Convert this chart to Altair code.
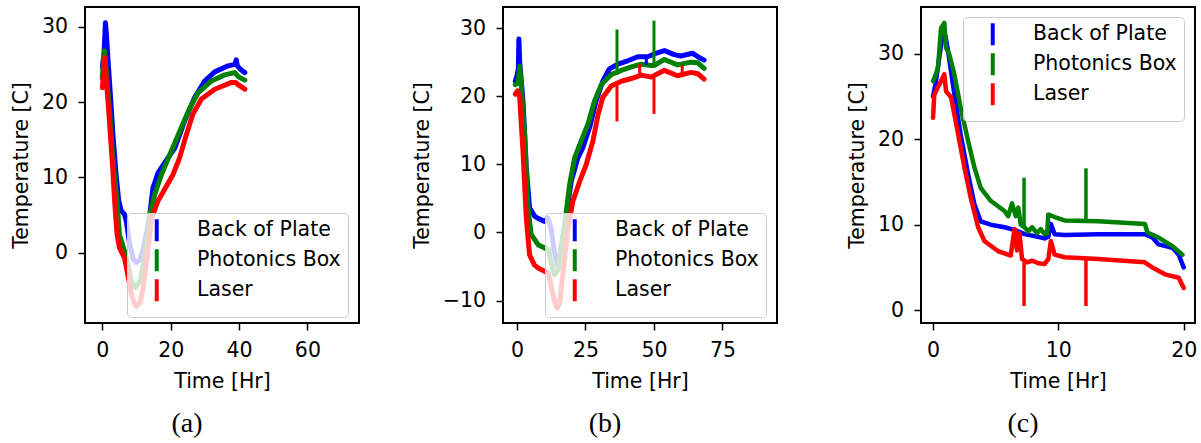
import altair as alt
import pandas as pd

SERIES = ["Back of Plate", "Photonics Box", "Laser"]
COLORS = ["#0000ff", "#008000", "#ff0000"]
FONT = "DejaVu Sans"
FS = 20.5

# ---------------- Panel (a) ----------------
a_blue_t = [0, 0.5, 0.9, 1.2, 1.6, 2.5, 3.1, 4.0, 4.8, 5.5, 6.5, 7.0, 8.0, 9.0, 10.0, 11.0, 12.0, 13.0, 13.9, 14.8, 16.3, 19.2, 21.2, 24.1, 27.0, 30.0, 32.9, 36.8, 38.8, 39.2, 39.5, 40.5, 41.7]
a_blue_T = [24.6, 26.5, 30.5, 29.0, 26.0, 20.0, 15.7, 10.5, 6.9, 5.6, 5.1, 4.2, 1.2, -0.8, -1.3, -0.9, 0.5, 2.8, 5.1, 8.6, 10.6, 12.6, 13.9, 17.5, 20.6, 22.8, 24.0, 24.8, 25.0, 25.6, 24.8, 24.3, 23.9]
a_green_t = [0, 0.3, 0.6, 1.0, 2.0, 3.0, 4.3, 5.0, 6.5, 7.5, 8.5, 9.7, 11.0, 12.0, 13.0, 13.9, 15.3, 17.3, 20.2, 23.1, 25.6, 28.0, 31.9, 35.8, 38.7, 40.0, 41.7]
a_green_T = [23.2, 25.5, 26.8, 25.0, 19.5, 13.0, 6.9, 2.4, 0.2, -1.5, -3.8, -4.6, -3.8, -1.5, 1.5, 5.1, 7.7, 10.4, 13.5, 16.6, 19.2, 21.2, 22.8, 23.6, 23.9, 23.3, 22.9]
a_red_t = [0, 0.3, 0.7, 1.0, 2.0, 3.0, 3.6, 4.3, 5.0, 6.5, 7.5, 8.5, 9.5, 10.0, 11.0, 12.0, 13.0, 14.4, 16.3, 18.2, 20.7, 22.6, 24.6, 26.5, 29.0, 32.9, 37.8, 39.0, 39.7, 41.7]
a_red_T = [21.9, 23.5, 25.9, 24.0, 18.0, 11.5, 6.9, 2.5, 0.7, -0.7, -3.0, -5.5, -6.9, -7.1, -6.6, -4.5, -1.0, 4.6, 6.9, 8.4, 10.4, 12.6, 15.7, 18.4, 20.4, 21.7, 22.6, 22.6, 22.3, 21.7]

# ---------------- Panel (b) ----------------
b_blue_t = [-0.6, 0, 0.5, 0.7, 1.0, 2.2, 3.4, 4.6, 6.4, 8.0, 10.1, 11.3, 12.5, 13.5, 14.7, 15.8, 17.0, 18.0, 19.8, 22.2, 24.0, 26.5, 28.9, 31.3, 33.7, 36.8, 40.4, 44.1, 47.7, 50.1, 53.8, 57.4, 59.8, 64.1, 66.0, 68.3]
b_blue_T = [22.2, 23.0, 24.0, 28.4, 25.0, 19.3, 9.5, 3.6, 2.4, 2.0, 1.6, 2.1, 0.5, -2.5, -4.8, -3.0, 0.0, 2.6, 7.5, 10.9, 12.4, 15.4, 19.3, 22.2, 24.0, 24.7, 25.2, 25.8, 25.8, 26.2, 26.7, 26.1, 25.9, 26.3, 25.8, 25.3]
b_green_t = [-0.6, 0.5, 1.0, 1.5, 2.8, 4.0, 5.2, 7.7, 10.1, 11.5, 12.5, 13.7, 15.0, 16.2, 17.4, 19.2, 21.0, 23.4, 25.9, 28.3, 30.8, 34.4, 36.5, 38.1, 41.7, 45.4, 49.0, 50.0, 53.8, 58.6, 63.5, 66.0, 68.3]
b_green_T = [21.7, 22.0, 24.4, 22.0, 14.4, 3.6, -0.3, -1.8, -2.3, -2.5, -4.5, -6.2, -5.5, -2.0, 1.1, 7.0, 10.9, 13.4, 15.9, 19.3, 21.7, 23.2, 23.5, 23.8, 24.3, 24.7, 24.5, 24.5, 25.4, 24.6, 25.0, 24.9, 24.1]
b_red_t = [-0.6, 0.2, 1.0, 2.2, 3.4, 4.6, 6.4, 8.0, 10.1, 11.5, 12.8, 14.0, 14.7, 15.5, 16.8, 18.6, 20.4, 22.9, 25.3, 27.7, 29.6, 31.3, 34.4, 38.1, 41.7, 45.4, 49.0, 53.8, 58.6, 63.5, 66.0, 68.3]
b_red_T = [20.3, 20.8, 19.8, 11.9, 2.1, -3.3, -4.8, -5.3, -5.7, -6.0, -8.5, -10.5, -11.1, -10.5, -6.0, 0.6, 4.6, 7.5, 10.0, 13.4, 17.3, 19.8, 21.5, 22.2, 22.6, 23.1, 22.8, 23.8, 23.0, 23.5, 23.3, 22.5]
# sensor glitches (vertical spikes): time, low, high
b_spike_series = ["Photonics Box", "Photonics Box", "Laser", "Laser", "Laser", "Laser", "Back of Plate"]
b_spike_t = [36.5, 50.0, 36.5, 50.0, 44.8, 60.3, 47.2]
b_spike_lo = [23.5, 24.5, 16.3, 17.4, 23.0, 23.2, 24.6]
b_spike_hi = [29.8, 31.1, 22.0, 22.8, 24.7, 24.5, 25.8]

# ---------------- Panel (c) ----------------
c_blue_t = [0, 0.2, 0.4, 0.64, 0.8, 1.0, 1.2, 1.7, 2.2, 2.8, 3.3, 3.8, 4.6, 5.7, 6.5, 7.3, 8.0, 8.9, 9.2, 9.4, 9.7, 10.5, 13.2, 16.9, 17.5, 18.0, 19.1, 19.6, 20.0]
c_blue_T = [25.0, 26.5, 28.5, 31.0, 32.5, 32.0, 30.3, 25.3, 20.6, 15.9, 12.4, 10.4, 10.0, 9.7, 9.4, 8.9, 8.7, 8.4, 8.6, 10.1, 8.9, 8.8, 8.9, 8.9, 8.5, 7.7, 7.3, 6.5, 5.0]
c_green_t = [0, 0.2, 0.4, 0.64, 0.9, 1.04, 1.3, 1.7, 2.2, 2.8, 3.3, 3.8, 4.6, 5.7, 6.0, 6.3, 6.6, 6.8, 7.0, 7.3, 7.6, 7.9, 8.3, 8.6, 8.9, 9.1, 9.2, 9.7, 10.5, 13.2, 16.9, 17.1, 18.0, 19.1, 19.9]
c_green_T = [26.8, 27.5, 28.4, 33.0, 33.6, 30.7, 29.9, 27.6, 23.7, 19.8, 16.7, 14.3, 12.8, 11.6, 11.0, 12.5, 11.0, 12.0, 10.0, 9.7, 9.2, 9.7, 9.0, 9.5, 8.9, 9.0, 11.2, 10.9, 10.5, 10.4, 10.1, 9.1, 8.5, 7.5, 6.5]
c_red_t = [0, 0.1, 0.3, 0.64, 0.9, 1.04, 1.44, 2.0, 2.5, 3.0, 3.6, 4.1, 5.2, 6.2, 6.5, 6.7, 6.9, 7.1, 7.5, 7.9, 8.4, 8.9, 9.2, 9.4, 9.7, 10.5, 13.2, 16.9, 17.5, 18.5, 19.6, 20.0]
c_red_T = [22.5, 25.2, 25.8, 26.8, 27.6, 25.6, 24.9, 20.6, 16.7, 13.2, 9.7, 8.1, 6.9, 6.4, 9.5, 7.0, 9.0, 6.0, 5.6, 5.8, 5.5, 5.4, 6.0, 8.1, 6.5, 6.2, 6.0, 5.6, 5.0, 4.2, 3.8, 2.6]
c_spike_series = ["Photonics Box", "Photonics Box", "Laser", "Laser"]
c_spike_t = [7.26, 12.2, 7.26, 12.2]
c_spike_lo = [9.6, 10.4, 0.5, 0.5]
c_spike_hi = [15.5, 16.6, 5.6, 6.0]


def panel(series_data, spikes, xdom, ydom, xticks, yticks, legend_xy, caption, lw, spike_w):
    color = alt.Color(
        "series:N",
        scale=alt.Scale(domain=SERIES, range=COLORS),
        legend=alt.Legend(
            title=None, orient="none", legendX=legend_xy[0], legendY=legend_xy[1],
            symbolType="M0,-2L0,2", symbolSize=121, symbolStrokeWidth=4,
            labelFont=FONT, labelFontSize=FS, labelColor="black",
            fillColor="rgba(255,255,255,0.8)", strokeColor="#cccccc",
            cornerRadius=4, padding=7, rowPadding=-9,
            symbolOffset=12.5, labelOffset=30,
        ),
    )
    xenc = alt.X("t:Q", scale=alt.Scale(domain=xdom, nice=False, zero=False),
                 axis=alt.Axis(values=xticks, title="Time [Hr]", format="d"))
    yenc = alt.Y("T:Q", scale=alt.Scale(domain=ydom, nice=False, zero=False),
                 axis=alt.Axis(values=yticks, title="Temperature [C]", format="d"))
    layers = []
    for name, (t, T) in zip(SERIES, series_data):
        df = pd.DataFrame({"t": t, "T": T, "series": name})
        layers.append(
            alt.Chart(df).mark_line(strokeWidth=lw, strokeCap="round", strokeJoin="round", clip=True)
            .encode(x=xenc, y=yenc, color=color)
        )
    if spikes is not None:
        s_series, s_t, s_lo, s_hi = spikes
        sdf = pd.DataFrame({"series": s_series, "t": s_t, "T": s_lo, "T2": s_hi})
        layers.append(
            alt.Chart(sdf).mark_rule(strokeWidth=spike_w, clip=True)
            .encode(x=xenc, y=yenc, y2="T2:Q", color=color)
        )
    return alt.layer(*layers).properties(
        width=274, height=316,
        title=alt.TitleParams(caption, orient="bottom", font="Liberation Serif", fontSize=28,
                              fontWeight="normal", color="black", dx=-35, offset=18, anchor="middle"),
    )


pa = panel([(a_blue_t, a_blue_T), (a_green_t, a_green_T), (a_red_t, a_red_T)], None,
           [-5.07, 75.1], [-9.3, 32.6], [0, 20, 40, 60], [0, 10, 20, 30], (42, 206), "(a)", 5, 3)
pb = panel([(b_blue_t, b_blue_T), (b_green_t, b_green_T), (b_red_t, b_red_T)],
           (b_spike_series, b_spike_t, b_spike_lo, b_spike_hi),
           [-5.1, 94.9], [-13.3, 33.1], [0, 25, 50, 75], [-10, 0, 10, 20, 30], (42, 206), "(b)", 5, 3)
pc = panel([(c_blue_t, c_blue_T), (c_green_t, c_green_T), (c_red_t, c_red_T)],
           (c_spike_series, c_spike_t, c_spike_lo, c_spike_hi),
           [-0.96, 20.9], [-1.49, 35.46], [0, 10, 20], [0, 10, 20, 30], (42, 10), "(c)", 4.5, 3.5)

chart = (
    alt.hconcat(pa, pb, pc, spacing=144, bounds="flush")
    .resolve_scale(x="independent", y="independent", color="independent")
    .resolve_legend(color="independent")
    .properties(padding={"left": 10, "top": 6, "right": 0, "bottom": 0}, background="white")
    .configure_view(stroke="black", strokeWidth=2)
    .configure_axis(
        grid=False, domain=False, ticks=True, tickSize=7, tickWidth=1.5, tickColor="black",
        labelFont=FONT, labelFontSize=FS, labelColor="black", labelPadding=10.5,
        titleFont=FONT, titleFontSize=FS, titleFontWeight="normal", titleColor="black", titlePadding=10,
    )
)

chart.save("out.html", embed_options={"renderer": "svg", "actions": False})
